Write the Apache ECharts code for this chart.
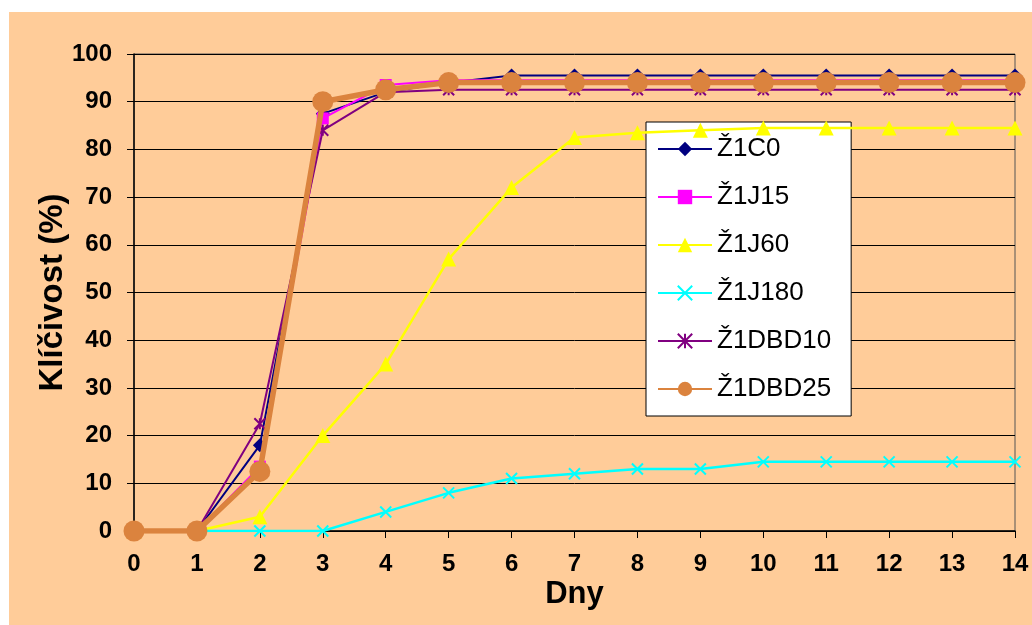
<!DOCTYPE html>
<html><head><meta charset="utf-8">
<script src="https://cdn.jsdelivr.net/npm/echarts@6/dist/echarts.min.js"></script>
<style>html,body{margin:0;padding:0;background:#fff}#c{width:1032px;height:625px}</style>
</head><body><div id="c"></div>
<script>
const days = [0,1,2,3,4,5,6,7,8,9,10,11,12,13,14];
const seriesNames = ['Ž1C0','Ž1J15','Ž1J60','Ž1J180','Ž1DBD10','Ž1DBD25'];
const z1c0    = [0,0,18,87.5,92,94,95.5,95.5,95.5,95.5,95.5,95.5,95.5,95.5,95.5];
const z1j15   = [0,0,13.5,86.5,93.5,94.5,94.5,94.5,94.5,94.5,94.5,94.5,94.5,94.5,94.5];
const z1j60   = [0,0,3,20,35,57,72,82.5,83.5,84,84.5,84.5,84.5,84.5,84.5];
const z1j180  = [0,0,0,0,4,8,11,12,13,13,14.5,14.5,14.5,14.5,14.5];
const z1dbd10 = [0,0,22.5,84,92,92.5,92.5,92.5,92.5,92.5,92.5,92.5,92.5,92.5,92.5];
const z1dbd25 = [0,0,12.5,90,92.5,94,94,94,94,94,94,94,94,94,94];
const xTitle = 'Dny';
const yTitle = 'Klíčivost (%)';

const values = [z1c0, z1j15, z1j60, z1j180, z1dbd10, z1dbd25];
const styles = [
  {color:'#000080', symbol:'diamond', size:14, lw:2},
  {color:'#FF00FF', symbol:'rect', size:12, lw:2},
  {color:'#FFFF00', symbol:'triangle', size:15, lw:2.5},
  {color:'#00FFFF', symbol:'path://M0,0 L10,10 M10,0 L0,10', size:11, lw:2.5, stroke:true},
  {color:'#800080', symbol:'path://M0,0 L10,10 M10,0 L0,10 M5,0 L5,10', size:11, lw:2, stroke:true},
  {color:'#DB833E', symbol:'circle', size:21, lw:5.5}
];
const font = '"Liberation Sans", Arial, sans-serif';
const series = values.map((v,i)=>{
  const s = styles[i];
  return {
    name: seriesNames[i], type:'line',
    data: days.map((d,j)=>[d, v[j]]),
    symbol: s.symbol, symbolSize: s.size, showSymbol:true,
    lineStyle:{color:s.color, width:s.lw},
    itemStyle: s.stroke ? {color:s.color, borderColor:s.color, borderWidth:2} : {color:s.color, borderWidth:0},
    emphasis:{disabled:true}, animation:false, z: 2+i
  };
});
const chart = echarts.init(document.getElementById('c'));
chart.setOption({
  backgroundColor:'#ffffff',
  animation:false,
  graphic:[{type:'rect', shape:{x:9,y:12,width:1023,height:613}, style:{fill:'#FFCC99'}, z:-10, silent:true}],
  grid:{left:134, right:17, top:54, bottom:94, show:true, borderColor:'#555', borderWidth:1, backgroundColor:'transparent'},
  legend:{
    orient:'vertical', left:646, top:122, width:207,
    backgroundColor:'#ffffff', borderColor:'#000', borderWidth:1, borderRadius:0,
    padding:[12,20,12,11], itemWidth:54, itemHeight:18, itemGap:18,
    textStyle:{fontFamily:font, fontSize:26, color:'#000', lineHeight:30},
    data: seriesNames
  },
  xAxis:{
    type:'value', min:0, max:14, interval:1,
    name:xTitle, nameLocation:'middle', nameGap:48, nameMoveOverlap:false,
    nameTextStyle:{fontFamily:font, fontSize:31, fontWeight:'bold', color:'#000'},
    axisLine:{lineStyle:{color:'#000', width:1.5}},
    axisTick:{show:true, inside:false, length:7, lineStyle:{color:'#000'}},
    axisLabel:{fontFamily:font, fontSize:24, fontWeight:'bold', color:'#000', margin:21},
    splitLine:{show:false}
  },
  yAxis:{
    type:'value', min:0, max:100, interval:10,
    name:yTitle, nameLocation:'middle', nameGap:65, nameRotate:90, nameMoveOverlap:false,
    nameTextStyle:{fontFamily:font, fontSize:33, fontWeight:'bold', color:'#000'},
    axisLine:{show:true, lineStyle:{color:'#000', width:1.5}},
    axisTick:{show:true, inside:false, length:7, lineStyle:{color:'#000'}},
    axisLabel:{fontFamily:font, fontSize:24, fontWeight:'bold', color:'#000', margin:22},
    splitLine:{show:true, lineStyle:{color:'#000', width:1}}
  },
  series: series
});
</script></body></html>
